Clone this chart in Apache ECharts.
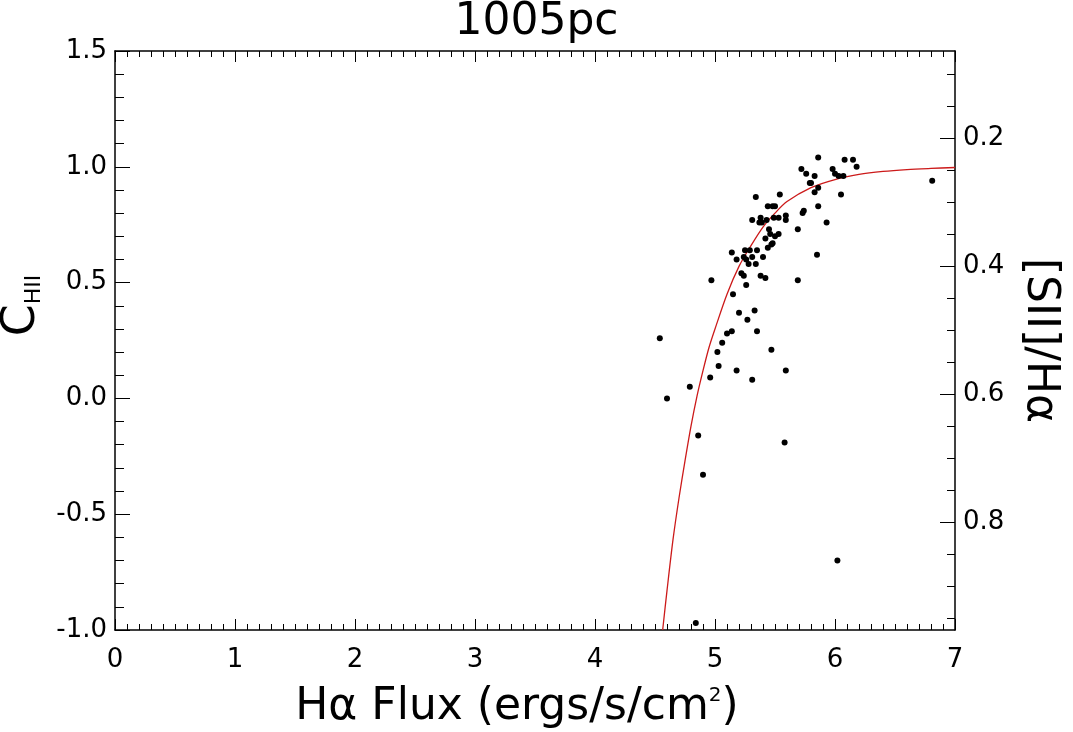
<!DOCTYPE html>
<html>
<head>
<meta charset="utf-8">
<title>1005pc</title>
<script src="https://cdn.jsdelivr.net/npm/echarts@6.0.0/dist/echarts.min.js"></script>
<style>
  html, body { margin: 0; padding: 0; background: #fff; }
  #chart-container { width: 1073px; height: 732px; }
</style>
</head>
<body>
<div id="chart-container"></div>
<script>
// H-alpha flux (x) vs C_HII (y)
var fluxX = [4.97, 5.14, 5.18, 5.25, 5.29, 5.24, 5.26, 5.28, 5.31, 5.35, 5.34, 5.40, 5.44,
  5.22, 5.24, 5.26, 5.38, 5.42, 5.15, 5.20, 5.27, 5.33, 5.10, 5.14, 5.35,
  5.34, 5.31, 5.38, 5.37, 5.39, 5.43, 5.44, 5.48, 5.50, 5.54, 5.49, 5.53, 5.59, 5.59,
  5.45, 5.46, 5.42, 5.50, 5.53, 5.48, 5.47, 5.69, 5.69, 5.72, 5.76, 5.74, 5.73,
  5.79, 5.80, 5.83, 5.83, 5.86, 5.86, 5.86, 5.85, 5.93, 5.98, 6.00, 6.03, 6.07,
  6.05, 6.08, 6.15, 6.18, 6.81, 4.54, 5.06, 5.02, 5.03, 5.18, 4.96, 5.31, 4.79,
  4.60, 4.86, 4.90, 4.84, 5.58, 5.59, 6.02, 5.47];
var chii = [0.51, 0.63, 0.60, 0.64, 0.64, 0.61, 0.60, 0.58, 0.61, 0.64, 0.58, 0.61, 0.65,
  0.54, 0.53, 0.49, 0.53, 0.52, 0.45, 0.37, 0.34, 0.38, 0.28, 0.29, 0.29,
  0.87, 0.77, 0.78, 0.76, 0.76, 0.77, 0.83, 0.83, 0.83, 0.88, 0.78, 0.78, 0.79, 0.77,
  0.73, 0.71, 0.69, 0.70, 0.71, 0.67, 0.665, 0.73, 0.51, 0.99, 0.97, 0.81, 0.80,
  0.93, 0.93, 0.96, 0.89, 1.04, 0.91, 0.83, 0.62, 0.76, 0.99, 0.97, 0.96, 0.96,
  0.88, 1.03, 1.03, 1.00, 0.94, 0.26, 0.24, 0.20, 0.14, 0.12, 0.09, 0.08, 0.05,
  0.00, -0.16, -0.33, -0.97, -0.19, 0.12, -0.70, 0.21];

// red model curve, read at these flux values
var curveX = [4.564, 4.6, 4.65, 4.7, 4.75, 4.8, 4.85, 4.9, 4.95, 5.0, 5.1, 5.2, 5.3,
  5.4, 5.5, 5.6, 5.8, 6.0, 6.2, 6.4, 6.6, 6.8, 7.0];
var curveY = [-1.0, -0.83, -0.61, -0.43, -0.27, -0.12, 0.01, 0.12, 0.22, 0.30, 0.45, 0.57, 0.66,
  0.74, 0.80, 0.85, 0.91, 0.945, 0.967, 0.98, 0.988, 0.993, 0.997];

// right axis ([SII]/Ha) tick values
var ratioLabels = [0.2, 0.4, 0.6, 0.8];
var ratioMinor = [0.1, 0.15, 0.25, 0.3, 0.35, 0.45, 0.5, 0.55, 0.65, 0.7, 0.75, 0.85, 0.9, 0.95];

var font = 'DejaVu Sans';

var dom = document.getElementById('chart-container');
var myChart = echarts.init(dom, null, { renderer: 'canvas' });

var scatterData = fluxX.map(function (x, i) { return [x, chii[i]]; });
var curveData = curveX.map(function (x, i) { return [x, curveY[i]]; });

var blackLine = { onZero: false, lineStyle: { color: '#000', width: 1.5 } };
var tickStyle = { color: '#000', width: 1 };

option = {
  animation: false,
  backgroundColor: '#fff',
  title: {
    text: '1005pc',
    left: 'center',
    top: -4,
    textStyle: { fontFamily: font, fontSize: 44, fontWeight: 'normal', color: '#000' }
  },
  grid: { left: 115, right: 118, top: 51, bottom: 102, containLabel: false, outerBoundsMode: 'none' },
  xAxis: [
    {
      type: 'value',
      position: 'bottom',
      min: 0,
      max: 7,
      interval: 1,
      axisLine: blackLine,
      axisTick: { inside: true, length: 11, lineStyle: tickStyle },
      minorTick: { show: true, splitNumber: 10, length: 6, lineStyle: tickStyle },
      splitLine: { show: false },
      axisLabel: { fontFamily: font, fontSize: 26, color: '#000', margin: 17 },
      name: 'Hα Flux (ergs/s/cm{sup|2})',
      nameLocation: 'middle',
      nameGap: 56,
      nameTextStyle: {
        fontFamily: font, fontSize: 44, color: '#000',
        padding: [0, 36, 0, 0],
        rich: { sup: { fontFamily: font, fontSize: 20, color: '#000', verticalAlign: 'top', lineHeight: 44 } }
      }
    },
    {
      type: 'value',
      position: 'top',
      min: 0,
      max: 7,
      interval: 1,
      axisLine: blackLine,
      axisTick: { inside: true, length: 11, lineStyle: tickStyle },
      minorTick: { show: true, splitNumber: 10, length: 6, lineStyle: tickStyle },
      splitLine: { show: false },
      axisLabel: { show: false }
    }
  ],
  yAxis: [
    {
      type: 'value',
      position: 'left',
      min: -1,
      max: 1.5,
      interval: 0.5,
      axisLine: blackLine,
      axisTick: { inside: true, length: 15, lineStyle: tickStyle },
      minorTick: { show: true, splitNumber: 5, length: 9, lineStyle: tickStyle },
      splitLine: { show: false },
      axisLabel: {
        fontFamily: font, fontSize: 26, color: '#000', margin: 8,
        formatter: function (v) { return v.toFixed(1); }
      },
      name: 'C{sub|HII}',
      nameLocation: 'middle',
      nameGap: 60,
      nameTextStyle: {
        fontFamily: font, fontSize: 46, color: '#000',
        padding: [0, 0, 0, 70],
        rich: { sub: { fontFamily: font, fontSize: 22, color: '#000', verticalAlign: 'bottom', lineHeight: 46 } }
      }
    },
    {
      type: 'value',
      position: 'right',
      inverse: true,
      min: 0.0636,
      max: 0.969,
      axisLine: blackLine,
      axisTick: { inside: true, length: 15, customValues: ratioLabels, lineStyle: tickStyle },
      splitLine: { show: false },
      axisLabel: {
        fontFamily: font, fontSize: 26, color: '#000', margin: 8,
        customValues: ratioLabels,
        formatter: function (v) { return v.toFixed(1); }
      },
      name: '[SII]/Hα',
      nameLocation: 'middle',
      nameRotate: -90,
      nameGap: 62,
      nameTextStyle: { fontFamily: font, fontSize: 44, color: '#000' }
    },
    {
      type: 'value',
      position: 'right',
      inverse: true,
      min: 0.0636,
      max: 0.969,
      axisLine: { show: false, onZero: false },
      axisTick: { inside: true, length: 8, customValues: ratioMinor, lineStyle: tickStyle },
      splitLine: { show: false },
      axisLabel: { show: false }
    }
  ],
  series: [
    {
      name: 'model',
      type: 'line',
      xAxisIndex: 0,
      yAxisIndex: 0,
      data: curveData,
      showSymbol: false,
      smooth: 0.3,
      lineStyle: { color: '#cc1a1a', width: 1.3 },
      z: 2
    },
    {
      name: 'regions',
      type: 'scatter',
      xAxisIndex: 0,
      yAxisIndex: 0,
      data: scatterData,
      symbol: 'circle',
      symbolSize: 6,
      itemStyle: { color: '#000', opacity: 1 },
      z: 3
    }
  ]
};

myChart.setOption(option);
window.addEventListener('resize', myChart.resize);
</script>
</body>
</html>
